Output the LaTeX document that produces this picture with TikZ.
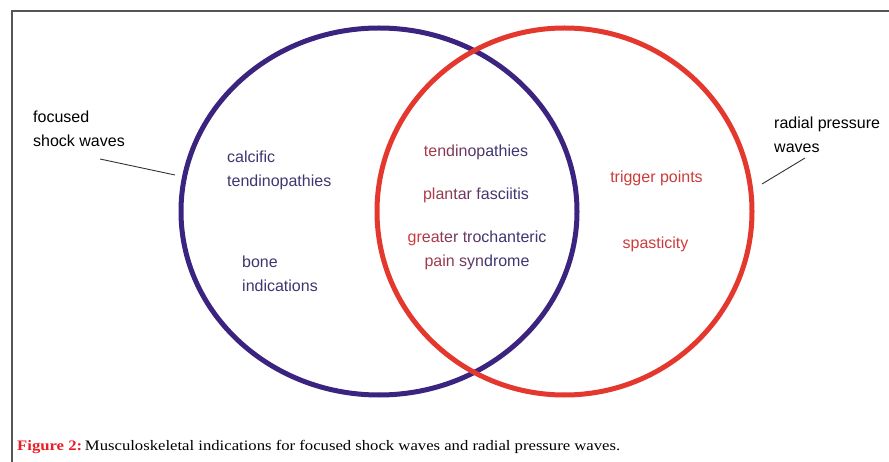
\documentclass[tikz,border=0pt]{standalone}
\usepackage{fontspec}
\setmainfont{Liberation Serif}
\setsansfont{Liberation Sans}
\usetikzlibrary{shapes.geometric}
\definecolor{ringblue}{RGB}{58,36,128}
\definecolor{ringred}{RGB}{228,56,46}
\definecolor{txtblue}{RGB}{62,54,112}
\definecolor{txtred}{RGB}{204,60,60}
\definecolor{capred}{RGB}{236,28,36}
\definecolor{framegray}{RGB}{85,85,85}
% chunk of a label in a red/blue mix
\newcommand{\gc}[2]{\textcolor{txtred!#1!txtblue}{#2}}

\begin{document}
\begin{tikzpicture}[x=1pt, y=-1pt,
	lbl/.style={font=\sffamily\fontsize{16}{24}\selectfont, inner sep=0pt},
	ring/.style={line width=5pt, ellipse, inner sep=0pt},
	lead/.style={draw=black!80, line width=0.9pt}]
	\useasboundingbox (0,0) rectangle (889,462);
	\draw[framegray, line width=2pt] (889,11) -- (11.5,11) -- (11.5,462);

	% the two circles
	\node[ring, draw=ringblue, minimum width=396pt, minimum height=367pt] (fsw) at (379,211.5) {};
	\node[ring, draw=ringred, minimum width=375pt, minimum height=367pt] (rpw) at (564.5,211.5) {};

	% outside labels (base = last line)
	\node[lbl, align=left, anchor=base west] (fswlbl) at (33,147) {focused\\shock waves};
	\node[lbl, align=left, anchor=base west] (rpwlbl) at (774,153) {radial pressure\\waves};
	\coordinate (fswa) at (100,159);
	\coordinate (fswb) at (175,175);
	\coordinate (rpwa) at (805,158);
	\coordinate (rpwb) at (762,184);
	\draw[lead] (fswa) -- (fswb);
	\draw[lead] (rpwa) -- (rpwb);

	% focused only
	\node[lbl, txtblue, align=left, anchor=base west] (calc) at (227,187) {calcific\\tendinopathies};
	\node[lbl, txtblue, align=left, anchor=base west] (bone) at (242,292) {bone\\indications};

	% both
	\node[lbl, anchor=base] (tend) at (476,157) {\gc{75}{te}\gc{50}{nd}\gc{35}{in}\gc{17}{op}\gc{0}{athies}};
	\node[lbl, anchor=base] (plan) at (476,200) {\gc{79}{pl}\gc{59}{an}\gc{39}{ta}\gc{22}{r f}\gc{6}{as}\gc{0}{ciitis}};
	\node[lbl, align=center, anchor=base] (gtps) at (477,267)
	{\gc{100}{gr}\gc{75}{ea}\gc{52}{te}\gc{37}{r t}\gc{19}{ro}\gc{0}{chanteric}\\
	\gc{71}{pa}\gc{54}{in} \gc{39}{s}\gc{20}{yn}\gc{0}{drome}};

	% radial only
	\node[lbl, txtred, anchor=base] (trig) at (656.5,183) {trigger points};
	\node[lbl, txtred, anchor=base] (spas) at (655.5,249) {spasticity};

	% caption
	\node[anchor=base west, inner sep=0pt, font=\fontsize{14.5}{17}\selectfont] (cap) at (17,450)
	{\scalebox{1.15}[1]{\textcolor{capred}{\textbf{Figure 2:}}\,Musculoskeletal indications for focused shock waves and radial pressure waves.}};
\end{tikzpicture}
\end{document}
